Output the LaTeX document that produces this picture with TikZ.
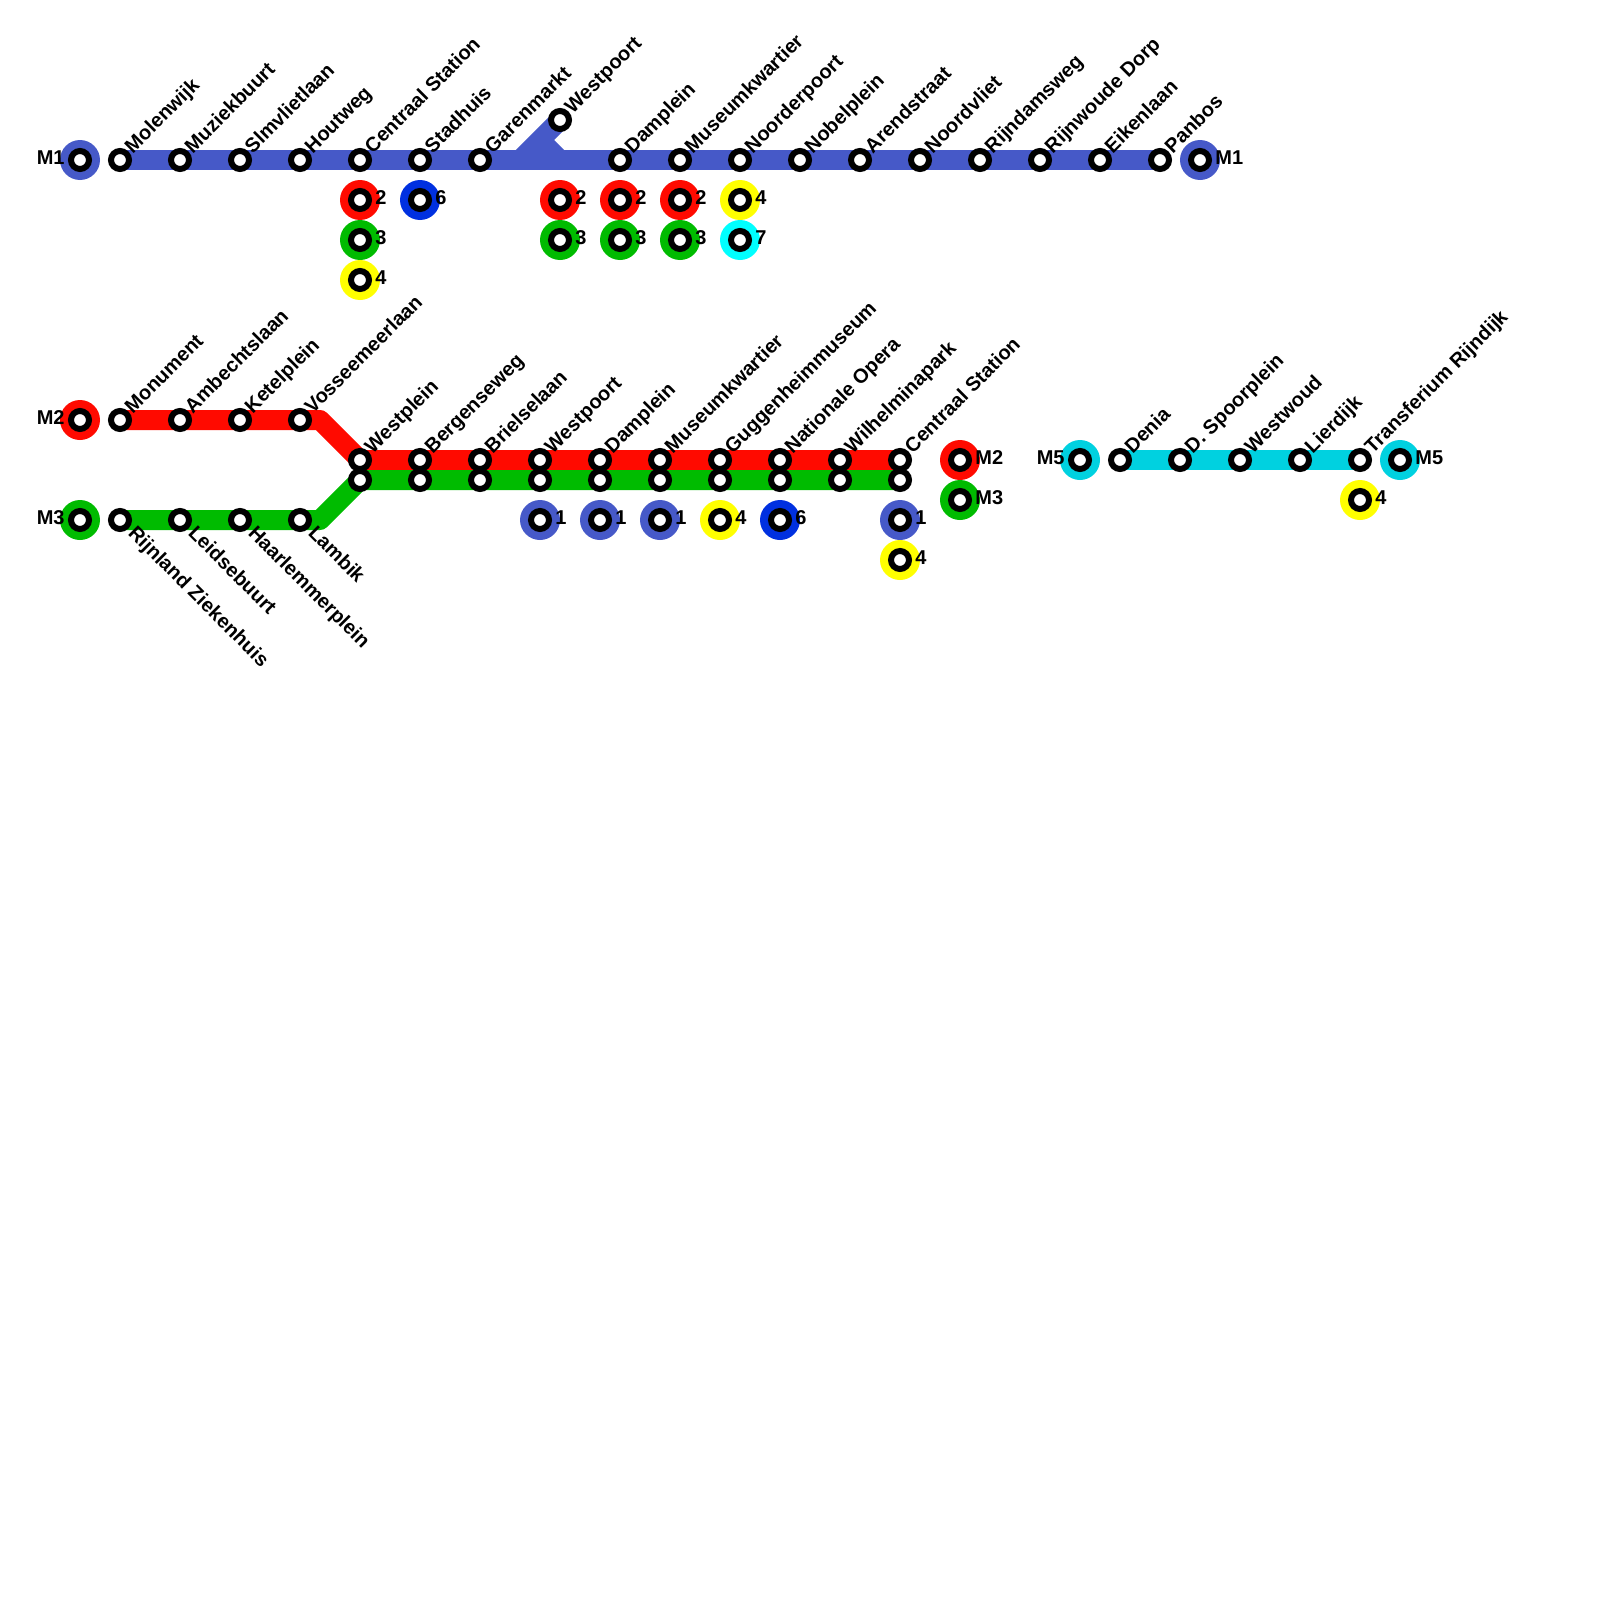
\documentclass[tikz,border=0pt]{standalone}
\usepackage{fontspec}
\setmainfont{Liberation Sans}
\usetikzlibrary{backgrounds}
\definecolor{metroBlue}{RGB}{70,89,200}
\definecolor{metroRed}{RGB}{255,10,0}
\definecolor{metroGreen}{RGB}{0,187,0}
\definecolor{metroYellow}{RGB}{255,255,0}
\definecolor{metroNavy}{RGB}{0,48,224}
\definecolor{metroTeal}{RGB}{0,209,224}
\definecolor{metroCyan}{RGB}{0,255,255}
\tikzset{
  stop/.style={circle, draw=black, fill=white, line width=3pt, minimum size=9pt, inner sep=0pt},
  hub/.style={circle, fill=#1, minimum size=20pt, inner sep=0pt},
  track/.style={draw=#1, line width=10pt, line cap=butt, line join=round},
  lineText/.style={font=\fontsize{10pt}{10pt}\bfseries, inner sep=0pt, text=black},
  upName/.style={lineText, anchor=base west, xshift=6.3pt, yshift=2.8pt, rotate=45},
  downName/.style={lineText, anchor=base west, xshift=3.5pt, yshift=-7pt, rotate=-45},
  rightTag/.style={lineText, anchor=west, xshift=7.5pt, yshift=1pt},
  leftTag/.style={lineText, anchor=east, xshift=-7.5pt, yshift=1pt}
}
\begin{document}
\begin{tikzpicture}
\def\unitsz{0.5pt}
\begin{scope}[x=\unitsz, y=-\unitsz]
  \useasboundingbox (0,0) rectangle (1600,1600);
  % Line M1
  \node[hub=metroBlue] (hubOneWest) at (80,160) {};
  \node[stop] (stopOneWest) at (80,160) {};
  \node[leftTag] (tagOneWest) at (80,160) {M1};
  \node[stop] (molenwijk) at (120,160) {};
  \node[stop] (muziekbuurt) at (180,160) {};
  \node[stop] (slmvlietlaan) at (240,160) {};
  \node[stop] (houtweg) at (300,160) {};
  \node[stop] (centraalOne) at (360,160) {};
  \node[stop] (stadhuis) at (420,160) {};
  \node[stop] (garenmarkt) at (480,160) {};
  \node[stop] (westpoortOne) at (560,120) {};
  \node[stop] (dampleinOne) at (620,160) {};
  \node[stop] (museumOne) at (680,160) {};
  \node[stop] (noorderpoort) at (740,160) {};
  \node[stop] (nobelplein) at (800,160) {};
  \node[stop] (arendstraat) at (860,160) {};
  \node[stop] (noordvliet) at (920,160) {};
  \node[stop] (rijndamsweg) at (980,160) {};
  \node[stop] (rijnwoude) at (1040,160) {};
  \node[stop] (eikenlaan) at (1100,160) {};
  \node[stop] (panbos) at (1160,160) {};
  \node[hub=metroBlue] (hubOneEast) at (1200,160) {};
  \node[stop] (stopOneEast) at (1200,160) {};
  \node[rightTag] (tagOneEast) at (1200,160) {M1};
  \coordinate (branchFoot) at (520,160);
  \coordinate (branchKnee) at (540,140);
  \coordinate (branchEnd) at (560,160);
  \node[upName] (nameMolenwijk) at (120,160) {Molenwijk};
  \node[upName] (nameMuziekbuurt) at (180,160) {Muziekbuurt};
  \node[upName] (nameSlmvlietlaan) at (240,160) {Slmvlietlaan};
  \node[upName] (nameHoutweg) at (300,160) {Houtweg};
  \node[upName] (nameCentraalOne) at (360,160) {Centraal Station};
  \node[upName] (nameStadhuis) at (420,160) {Stadhuis};
  \node[upName] (nameGarenmarkt) at (480,160) {Garenmarkt};
  \node[upName] (nameWestpoortOne) at (560,120) {Westpoort};
  \node[upName] (nameDampleinOne) at (620,160) {Damplein};
  \node[upName] (nameMuseumOne) at (680,160) {Museumkwartier};
  \node[upName] (nameNoorderpoort) at (740,160) {Noorderpoort};
  \node[upName] (nameNobelplein) at (800,160) {Nobelplein};
  \node[upName] (nameArendstraat) at (860,160) {Arendstraat};
  \node[upName] (nameNoordvliet) at (920,160) {Noordvliet};
  \node[upName] (nameRijndamsweg) at (980,160) {Rijndamsweg};
  \node[upName] (nameRijnwoude) at (1040,160) {Rijnwoude Dorp};
  \node[upName] (nameEikenlaan) at (1100,160) {Eikenlaan};
  \node[upName] (namePanbos) at (1160,160) {Panbos};
  % Transfers on M1
  \node[hub=metroRed] (hubA) at (360,200) {};
  \node[stop] (stopA) at (360,200) {};
  \node[rightTag] (tagA) at (360,200) {2};
  \node[hub=metroGreen] (hubB) at (360,240) {};
  \node[stop] (stopB) at (360,240) {};
  \node[rightTag] (tagB) at (360,240) {3};
  \node[hub=metroYellow] (hubC) at (360,280) {};
  \node[stop] (stopC) at (360,280) {};
  \node[rightTag] (tagC) at (360,280) {4};
  \node[hub=metroNavy] (hubD) at (420,200) {};
  \node[stop] (stopD) at (420,200) {};
  \node[rightTag] (tagD) at (420,200) {6};
  \node[hub=metroRed] (hubE) at (560,200) {};
  \node[stop] (stopE) at (560,200) {};
  \node[rightTag] (tagE) at (560,200) {2};
  \node[hub=metroGreen] (hubF) at (560,240) {};
  \node[stop] (stopF) at (560,240) {};
  \node[rightTag] (tagF) at (560,240) {3};
  \node[hub=metroRed] (hubG) at (620,200) {};
  \node[stop] (stopG) at (620,200) {};
  \node[rightTag] (tagG) at (620,200) {2};
  \node[hub=metroGreen] (hubH) at (620,240) {};
  \node[stop] (stopH) at (620,240) {};
  \node[rightTag] (tagH) at (620,240) {3};
  \node[hub=metroRed] (hubI) at (680,200) {};
  \node[stop] (stopI) at (680,200) {};
  \node[rightTag] (tagI) at (680,200) {2};
  \node[hub=metroGreen] (hubJ) at (680,240) {};
  \node[stop] (stopJ) at (680,240) {};
  \node[rightTag] (tagJ) at (680,240) {3};
  \node[hub=metroYellow] (hubK) at (740,200) {};
  \node[stop] (stopK) at (740,200) {};
  \node[rightTag] (tagK) at (740,200) {4};
  \node[hub=metroCyan] (hubL) at (740,240) {};
  \node[stop] (stopL) at (740,240) {};
  \node[rightTag] (tagL) at (740,240) {7};
  % Lines M2 and M3
  \node[hub=metroRed] (hubTwoWest) at (80,420) {};
  \node[stop] (stopTwoWest) at (80,420) {};
  \node[leftTag] (tagTwoWest) at (80,420) {M2};
  \node[hub=metroGreen] (hubThreeWest) at (80,520) {};
  \node[stop] (stopThreeWest) at (80,520) {};
  \node[leftTag] (tagThreeWest) at (80,520) {M3};
  \node[stop] (monument) at (120,420) {};
  \node[stop] (ambechtslaan) at (180,420) {};
  \node[stop] (ketelplein) at (240,420) {};
  \node[stop] (vosseemeerlaan) at (300,420) {};
  \coordinate (bendTwo) at (320,420);
  \node[stop] (rijnland) at (120,520) {};
  \node[stop] (leidsebuurt) at (180,520) {};
  \node[stop] (haarlemmerplein) at (240,520) {};
  \node[stop] (lambik) at (300,520) {};
  \coordinate (bendThree) at (320,520);
  \node[stop] (westpleinTwo) at (360,460) {};
  \node[stop] (westpleinThree) at (360,480) {};
  \node[stop] (bergensewegTwo) at (420,460) {};
  \node[stop] (bergensewegThree) at (420,480) {};
  \node[stop] (brielselaanTwo) at (480,460) {};
  \node[stop] (brielselaanThree) at (480,480) {};
  \node[stop] (westpoortTwo) at (540,460) {};
  \node[stop] (westpoortThree) at (540,480) {};
  \node[stop] (dampleinTwo) at (600,460) {};
  \node[stop] (dampleinThree) at (600,480) {};
  \node[stop] (museumTwo) at (660,460) {};
  \node[stop] (museumThree) at (660,480) {};
  \node[stop] (guggenheimTwo) at (720,460) {};
  \node[stop] (guggenheimThree) at (720,480) {};
  \node[stop] (operaTwo) at (780,460) {};
  \node[stop] (operaThree) at (780,480) {};
  \node[stop] (wilhelminaTwo) at (840,460) {};
  \node[stop] (wilhelminaThree) at (840,480) {};
  \node[stop] (centraalTwo) at (900,460) {};
  \node[stop] (centraalThree) at (900,480) {};
  \node[hub=metroRed] (hubTwoEast) at (960,460) {};
  \node[stop] (stopTwoEast) at (960,460) {};
  \node[rightTag] (tagTwoEast) at (960,460) {M2};
  \node[hub=metroGreen] (hubThreeEast) at (960,500) {};
  \node[stop] (stopThreeEast) at (960,500) {};
  \node[rightTag] (tagThreeEast) at (960,500) {M3};
  \node[upName] (nameMonument) at (120,420) {Monument};
  \node[upName] (nameAmbechtslaan) at (180,420) {Ambechtslaan};
  \node[upName] (nameKetelplein) at (240,420) {Ketelplein};
  \node[upName] (nameVosseemeerlaan) at (300,420) {Vosseemeerlaan};
  \node[upName] (nameWestplein) at (360,460) {Westplein};
  \node[upName] (nameBergenseweg) at (420,460) {Bergenseweg};
  \node[upName] (nameBrielselaan) at (480,460) {Brielselaan};
  \node[upName] (nameWestpoortTwo) at (540,460) {Westpoort};
  \node[upName] (nameDampleinTwo) at (600,460) {Damplein};
  \node[upName] (nameMuseumTwo) at (660,460) {Museumkwartier};
  \node[upName] (nameGuggenheim) at (720,460) {Guggenheimmuseum};
  \node[upName] (nameOpera) at (780,460) {Nationale Opera};
  \node[upName] (nameWilhelmina) at (840,460) {Wilhelminapark};
  \node[upName] (nameCentraalTwo) at (900,460) {Centraal Station};
  \node[downName] (nameRijnland) at (120,520) {Rijnland Ziekenhuis};
  \node[downName] (nameLeidsebuurt) at (180,520) {Leidsebuurt};
  \node[downName] (nameHaarlemmerplein) at (240,520) {Haarlemmerplein};
  \node[downName] (nameLambik) at (300,520) {Lambik};
  % Transfers on M2 and M3
  \node[hub=metroBlue] (hubM) at (540,520) {};
  \node[stop] (stopM) at (540,520) {};
  \node[rightTag] (tagM) at (540,520) {1};
  \node[hub=metroBlue] (hubN) at (600,520) {};
  \node[stop] (stopN) at (600,520) {};
  \node[rightTag] (tagN) at (600,520) {1};
  \node[hub=metroBlue] (hubO) at (660,520) {};
  \node[stop] (stopO) at (660,520) {};
  \node[rightTag] (tagO) at (660,520) {1};
  \node[hub=metroYellow] (hubP) at (720,520) {};
  \node[stop] (stopP) at (720,520) {};
  \node[rightTag] (tagP) at (720,520) {4};
  \node[hub=metroNavy] (hubQ) at (780,520) {};
  \node[stop] (stopQ) at (780,520) {};
  \node[rightTag] (tagQ) at (780,520) {6};
  \node[hub=metroBlue] (hubR) at (900,520) {};
  \node[stop] (stopR) at (900,520) {};
  \node[rightTag] (tagR) at (900,520) {1};
  \node[hub=metroYellow] (hubS) at (900,560) {};
  \node[stop] (stopS) at (900,560) {};
  \node[rightTag] (tagS) at (900,560) {4};
  % Line M5
  \node[hub=metroTeal] (hubFiveWest) at (1080,460) {};
  \node[stop] (stopFiveWest) at (1080,460) {};
  \node[leftTag] (tagFiveWest) at (1080,460) {M5};
  \node[stop] (denia) at (1120,460) {};
  \node[stop] (spoorplein) at (1180,460) {};
  \node[stop] (westwoud) at (1240,460) {};
  \node[stop] (lierdijk) at (1300,460) {};
  \node[stop] (transferium) at (1360,460) {};
  \node[hub=metroTeal] (hubFiveEast) at (1400,460) {};
  \node[stop] (stopFiveEast) at (1400,460) {};
  \node[rightTag] (tagFiveEast) at (1400,460) {M5};
  \node[hub=metroYellow] (hubT) at (1360,500) {};
  \node[stop] (stopT) at (1360,500) {};
  \node[rightTag] (tagT) at (1360,500) {4};
  \node[upName] (nameDenia) at (1120,460) {Denia};
  \node[upName] (nameSpoorplein) at (1180,460) {D. Spoorplein};
  \node[upName] (nameWestwoud) at (1240,460) {Westwoud};
  \node[upName] (nameLierdijk) at (1300,460) {Lierdijk};
  \node[upName] (nameTransferium) at (1360,460) {Transferium Rijndijk};
  % Track under the stops
  \begin{pgfonlayer}{background}
    \draw[track=metroBlue] (molenwijk.center) -- (panbos.center);
    \draw[track=metroBlue] (westpoortOne.center) -- (branchFoot);
    \draw[track=metroBlue] (branchKnee) -- (branchEnd);
    \draw[track=metroRed] (monument.center) -- (bendTwo) -- (westpleinTwo.center) -- (centraalTwo.center);
    \draw[track=metroGreen] (rijnland.center) -- (bendThree) -- (westpleinThree.center) -- (centraalThree.center);
    \draw[track=metroTeal] (denia.center) -- (transferium.center);
  \end{pgfonlayer}
\end{scope}
\end{tikzpicture}
\end{document}
